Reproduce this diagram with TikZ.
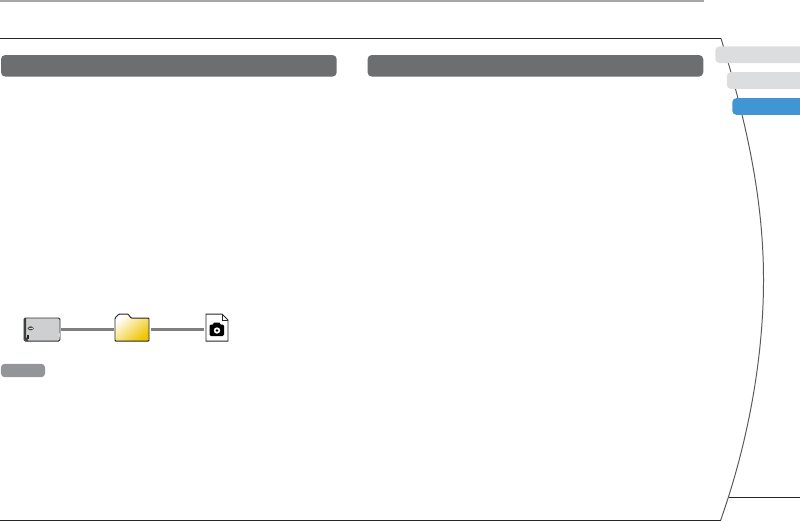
\documentclass[tikz,border=0pt]{standalone}
\usepackage{tikz}
\usetikzlibrary{positioning, calc}

\definecolor{barGray}{HTML}{6D6E70}
\definecolor{tabGray}{HTML}{DCDDDE}
\definecolor{tabBlue}{HTML}{4195D3}
\definecolor{pillGray}{HTML}{939598}
\definecolor{linkGray}{HTML}{7F7F7F}
\definecolor{cardGray}{HTML}{CDCFD1}
\definecolor{folderGold}{HTML}{F0C400}

\begin{document}
\begin{tikzpicture}[
  x=0.025cm, y=-0.025cm,
  bar/.style={rounded corners=3pt, fill=barGray, inner sep=0pt,
              minimum width=8.39cm, minimum height=0.54cm},
  tab/.style={rounded corners=3pt, fill=tabGray, inner sep=0pt, anchor=west,
              minimum height=0.42cm},
  icon/.style={inner sep=0pt},
  link/.style={linkGray, line width=2.3pt},
  rule/.style={black!85, line width=0.7pt},
]
  \useasboundingbox (0,0) rectangle (800,521);

  % Page frame
  \draw[black!35, line width=0.9pt] (0,1) -- (704,1);
  \draw[rule] (0,38.5) -- (721,38.5);
  \draw[rule] (0,520) -- (721,520);
  \draw[rule] (729,497) -- (800,497);
  \draw[black!65, line width=0.7pt] (721,38.5) .. controls (749,130) and (763.5,205) .. (763.5,280)
    .. controls (763.5,355) and (749,440) .. (720.7,520);

  % Section bars
  \node[bar] (bar_left)  at (168.85,65.8) {};
  \node[bar] (bar_right) at (535.4,65.8) {};

  % Side tabs
  \node[tab, minimum width=2.3cm] (tab_a) at (715,54.75) {};
  \node[tab, minimum width=2cm]   (tab_b) at (726.5,80.5) {};
  \node[tab, fill=tabBlue, minimum width=1.9cm] (tab_c) at (732,106.5) {};

  % Note pill
  \node[rounded corners=2.5pt, fill=pillGray, inner sep=0pt, minimum width=1.1cm,
        minimum height=0.33cm] (pill) at (23,370.5) {};

  % Card, folder, file
  \node[icon, minimum width=0.9cm, minimum height=0.575cm, fill=cardGray, draw=black!80,
        line width=0.7pt, rounded corners=1pt] (card) at (42,329.5) {};
  \node[icon, minimum width=0.85cm, minimum height=0.675cm] (folder) at (132,327.5) {};
  \node[icon, minimum width=0.55cm, minimum height=0.675cm] (file) at (217,327.5) {};

  % Card details
  \fill[black!75] (24,318) -- (26,318) -- (26,337) -- (28.5,341) -- (26.5,341) -- (24,338.5) -- cycle;
  \fill[black!70] (34,328.5) .. controls (31.5,325.5) and (29.5,325.5) .. (27.5,328.5)
    .. controls (29.5,331) and (31.5,331) .. (34,328.5);
  \fill[cardGray] (28.5,328.2) rectangle (33,329);
  \fill[black!85] (27,335) rectangle (28.5,338.5);
  \fill[white] (59.5,333) -- (58.5,335) -- (59.5,337) -- cycle;

  % Folder
  \draw[black!85, line width=0.7pt, rounded corners=0.6pt, top color=white, bottom color=folderGold,
        middle color=folderGold!50!white, shading angle=40]
    (115,341) -- (115,318) -- (119,314) -- (128,314) -- (131,318) -- (149,318) -- (149,341) -- cycle;

  % File with camera
  \draw[black!85, line width=0.7pt, fill=white]
    (206,314) -- (222,314) -- (228,320) -- (228,341) -- (206,341) -- cycle;
  \draw[black!85, line width=0.5pt] (222,314) -- (222,320) -- (228,320);
  \fill[black, rounded corners=1pt] (209.5,324.5) rectangle (224,336);
  \fill[black] (212.5,325) -- (214,322.5) -- (219.5,322.5) -- (221,325) -- cycle;
  \fill[white] (217,330.5) circle (3.2);
  \fill[black] (217,330.5) circle (1.4);

  % Links
  \draw[link] (card.east) ++(1,0) -- ($(folder.west |- card.east)+(-1,0)$);
  \draw[link] ($(folder.east |- card.east)+(2,0)$) -- ($(file.west |- card.east)+(-2,0)$);
\end{tikzpicture}
\end{document}
